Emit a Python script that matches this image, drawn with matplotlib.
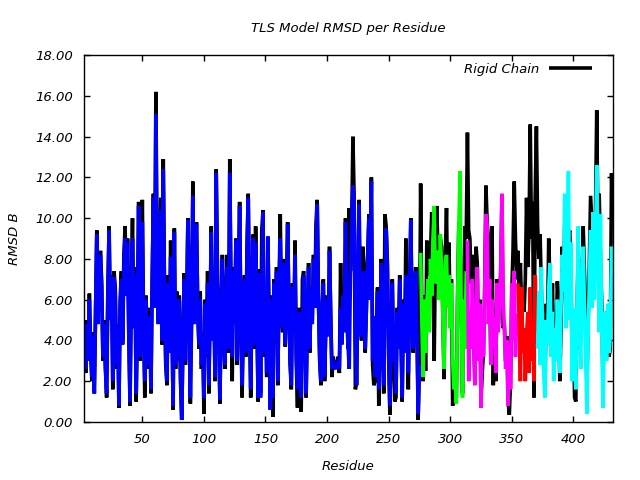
import numpy as np
import matplotlib
matplotlib.use('Agg')
import matplotlib.pyplot as plt

# residue numbers 3..432
residues = np.arange(3, 433)

# TLS model RMSD B per residue (coloured groups)
tls = [
    3.6, 2.6, 4.8, 3.0, 6.0, 3.5, 2.2, 4.2, 1.4, 5.2,
    9.2, 4.8, 7.0, 8.2, 6.6, 3.2, 4.8, 2.6, 1.4, 6.2,
    9.4, 5.0, 7.0, 2.0, 7.1, 6.4, 2.8, 4.6, 0.8, 5.6,
    7.0, 3.8, 7.6, 9.0, 6.2, 8.8, 4.2, 1.0, 6.0, 9.0,
    4.6, 7.2, 1.4, 5.0, 10.6, 3.2, 6.4, 9.8, 4.4, 2.0,
    6.0, 3.6, 2.8, 5.2, 1.6, 6.8, 11.0, 5.6, 15.1, 7.4,
    4.8, 8.0, 10.4, 4.0, 12.4, 6.2, 3.0, 2.0, 6.8, 3.4,
    8.1, 5.0, 0.8, 9.3, 2.8, 6.0, 3.2, 6.0, 2.2, 0.1,
    4.0, 7.0, 3.0, 5.6, 9.9, 6.4, 1.2, 5.0, 11.1, 4.8,
    8.6, 9.7, 5.3, 3.8, 6.0, 2.8, 4.2, 1.2, 5.8, 3.4,
    6.8, 1.8, 5.2, 9.3, 4.0, 6.4, 2.2, 12.2, 7.0, 4.4,
    1.1, 5.2, 8.0, 4.2, 2.8, 6.2, 7.6, 3.6, 12.2, 6.0,
    3.2, 7.4, 4.8, 8.9, 3.0, 6.6, 10.6, 5.0, 1.8, 4.6,
    7.0, 3.4, 8.4, 11.0, 5.2, 1.6, 6.0, 9.0, 3.8, 8.8,
    5.2, 1.2, 7.3, 1.2, 6.6, 10.3, 3.4, 5.8, 2.4, 9.1,
    4.6, 0.6, 6.0, 1.2, 6.8, 4.0, 7.4, 2.0, 6.4, 9.0,
    5.0, 4.6, 7.8, 3.8, 6.2, 9.7, 5.6, 3.0, 1.8, 6.6,
    4.4, 8.2, 3.2, 1.6, 5.4, 3.0, 1.2, 4.2, 7.2, 5.0,
    1.4, 4.8, 7.6, 3.6, 6.4, 4.8, 8.0, 5.6, 8.6, 10.7,
    6.0, 3.2, 2.0, 5.4, 6.8, 2.2, 4.6, 6.0, 4.2, 8.4,
    5.0, 2.6, 3.0, 2.6, 2.8, 2.6, 3.0, 2.6, 5.6, 3.8,
    6.2, 4.4, 9.8, 5.6, 3.8, 2.6, 7.2, 9.4, 11.6, 10.8,
    4.0, 1.8, 6.2, 10.7, 5.0, 4.2, 7.0, 7.4, 3.6, 5.6,
    8.0, 10.0, 6.0, 11.8, 3.0, 5.2, 2.2, 4.0, 6.4, 1.6,
    3.8, 7.8, 4.6, 1.8, 6.0, 9.5, 7.6, 3.4, 0.8, 4.4,
    6.8, 3.0, 4.8, 1.4, 5.4, 3.6, 7.0, 4.2, 1.2, 5.8,
    3.4, 7.2, 5.0, 2.4, 6.0, 9.9, 5.2, 3.6, 6.4, 7.4,
    4.6, 0.4, 2.8, 8.3, 4.8, 2.2, 6.0, 3.4, 5.8, 7.0,
    4.4, 8.0, 6.2, 9.0, 10.6, 6.8, 8.0, 8.4, 6.0, 9.2,
    7.4, 5.2, 2.6, 7.8, 8.2, 5.6, 7.2, 4.6, 6.8, 3.0,
    1.6, 3.0, 0.9, 6.0, 9.6, 12.3, 5.0, 1.2, 6.0, 3.6,
    7.4, 8.9, 2.0, 5.4, 3.6, 7.0, 4.2, 1.8, 5.0, 7.6,
    3.0, 5.8, 0.7, 5.3, 3.2, 6.4, 10.2, 9.7, 4.8, 7.0,
    2.8, 6.0, 3.6, 5.2, 2.4, 6.8, 4.4, 5.4, 7.6, 11.2,
    6.0, 4.6, 2.6, 4.0, 0.8, 3.8, 1.6, 6.8, 4.0, 7.4,
    3.2, 5.3, 6.8, 5.0, 2.0, 6.6, 3.4, 4.6, 2.0, 4.2,
    5.4, 2.4, 6.6, 3.0, 4.8, 2.0, 7.2, 4.4, 3.6, 6.4,
    2.8, 7.6, 4.4, 2.2, 1.2, 5.0, 3.8, 6.6, 7.8, 3.2,
    5.4, 2.0, 4.6, 3.0, 6.0, 4.0, 2.4, 5.6, 8.2, 6.4,
    11.2, 4.6, 7.6, 12.3, 5.0, 8.8, 2.0, 5.6, 3.4, 1.6,
    6.2, 9.6, 4.6, 2.6, 6.8, 8.6, 5.8, 3.4, 0.4, 4.2,
    7.0, 9.4, 5.6, 10.3, 6.0, 9.0, 12.6, 8.0, 4.4, 10.2,
    5.0, 0.7, 3.6, 5.4, 3.0, 5.8, 3.4, 4.2, 8.6, 7.6,
]

# rigid chain RMSD B per residue
rigid = [
    3.8, 2.4, 5.0, 3.2, 6.3, 3.6, 2.0, 4.4, 1.4, 5.4,
    9.4, 5.0, 7.2, 8.4, 6.8, 3.0, 5.0, 2.8, 1.2, 6.6,
    9.6, 5.2, 7.2, 1.6, 7.4, 6.6, 2.6, 4.8, 0.7, 6.0,
    7.4, 4.0, 8.2, 9.6, 6.8, 9.0, 4.4, 0.8, 6.4, 10.0,
    4.8, 7.6, 1.0, 5.2, 10.8, 3.0, 6.6, 10.9, 4.8, 1.2,
    6.2, 3.8, 2.6, 5.6, 1.4, 7.0, 11.2, 6.0, 16.2, 7.8,
    5.0, 8.4, 11.0, 3.8, 12.9, 6.6, 2.8, 1.8, 7.2, 3.6,
    8.9, 5.2, 0.6, 9.5, 2.6, 6.4, 3.0, 6.2, 2.0, 0.1,
    4.2, 7.3, 2.8, 5.8, 10.0, 6.6, 0.9, 5.4, 11.8, 5.0,
    8.8, 9.8, 5.6, 3.6, 6.4, 2.6, 4.4, 0.4, 6.0, 3.2,
    7.4, 1.4, 5.4, 9.6, 4.2, 6.8, 2.0, 12.4, 7.4, 4.6,
    0.9, 5.6, 8.2, 4.4, 2.6, 6.6, 8.2, 3.4, 12.9, 6.4,
    2.0, 7.6, 5.0, 9.0, 2.8, 6.8, 10.8, 5.2, 1.2, 4.8,
    7.2, 3.2, 8.6, 11.2, 5.4, 1.2, 6.2, 9.2, 3.6, 9.6,
    5.4, 1.0, 7.5, 1.4, 9.4, 10.4, 3.2, 6.0, 2.2, 8.7,
    4.8, 0.6, 6.2, 0.25, 7.0, 3.8, 7.6, 1.8, 6.6, 10.2,
    5.2, 4.4, 8.0, 3.7, 6.4, 9.8, 5.8, 2.8, 1.6, 6.8,
    4.6, 8.9, 3.0, 0.7, 5.6, 2.8, 0.5, 7.0, 7.4, 5.2,
    1.2, 5.0, 7.8, 3.4, 6.6, 5.0, 8.2, 5.8, 9.7, 10.9,
    6.2, 3.0, 1.8, 5.6, 7.0, 2.0, 4.8, 6.2, 4.4, 8.6,
    5.2, 2.2, 3.2, 2.8, 2.6, 2.8, 3.2, 2.4, 7.8, 4.0,
    6.4, 4.6, 10.0, 5.8, 3.6, 10.5, 7.4, 9.6, 14.0, 11.0,
    1.6, 2.0, 6.4, 10.9, 5.2, 4.0, 8.6, 7.6, 3.4, 5.8,
    8.2, 10.2, 6.2, 12.0, 2.8, 1.8, 2.0, 4.2, 6.6, 0.8,
    4.0, 8.0, 4.8, 1.4, 10.2, 9.6, 7.8, 3.2, 0.35, 4.6,
    7.0, 2.8, 1.0, 1.2, 5.6, 3.8, 7.2, 4.4, 1.0, 6.0,
    3.6, 9.0, 5.2, 1.6, 6.2, 10.0, 5.4, 3.4, 6.6, 7.6,
    4.8, 0.1, 3.0, 11.7, 5.0, 2.0, 6.2, 2.5, 8.9, 7.2,
    7.8, 8.2, 10.3, 7.0, 3.0, 8.4, 10.6, 8.6, 7.2, 9.0,
    8.6, 5.4, 2.1, 8.0, 10.5, 5.8, 8.8, 4.8, 7.0, 0.8,
    1.8, 1.8, 1.2, 6.2, 9.8, 9.0, 5.2, 1.4, 6.2, 9.6,
    9.0, 14.2, 9.4, 9.0, 6.8, 8.2, 4.4, 2.0, 8.6, 7.8,
    3.2, 6.0, 1.0, 2.4, 3.4, 6.6, 11.6, 9.8, 9.0, 7.2,
    3.0, 9.6, 1.8, 5.4, 2.0, 7.0, 4.6, 6.4, 7.2, 11.0,
    4.6, 4.8, 3.0, 4.2, 1.0, 0.35, 2.0, 6.4, 8.4, 11.8,
    9.0, 7.0, 8.4, 6.6, 7.8, 5.6, 6.2, 5.4, 7.0, 11.0,
    7.6, 9.4, 14.6, 9.0, 10.8, 1.2, 11.0, 14.5, 9.6, 8.0,
    9.2, 6.6, 4.4, 3.0, 2.0, 5.8, 4.6, 9.0, 6.8, 4.0,
    6.8, 3.4, 5.2, 3.6, 6.9, 5.8, 2.0, 4.6, 8.6, 7.0,
    9.6, 4.8, 8.2, 9.0, 9.4, 7.8, 3.0, 5.0, 1.2, 1.0,
    5.8, 8.0, 3.6, 5.6, 7.0, 9.6, 7.4, 5.4, 1.8, 4.8,
    7.8, 11.1, 9.8, 8.6, 7.2, 10.4, 15.3, 9.2, 11.2, 8.0,
    6.0, 2.2, 4.6, 5.2, 5.4, 4.0, 3.2, 3.6, 12.2, 10.0,
]

# TLS groups: residue range of each group and its colour
group_start = [3, 276, 314, 355, 371]
group_end = [275, 313, 354, 370, 432]
group_color = ['#0000ff', '#00ff00', '#ff00ff', '#ff0000', '#00ffff']

tls = np.array(tls)
rigid = np.array(rigid)

plt.rcParams['font.family'] = ['DejaVu Sans']
fig = plt.figure(figsize=(6.4, 4.8), dpi=100)
ax = fig.add_axes([0.131, 0.121, 0.827, 0.764])

style = dict(lw=2.6, solid_joinstyle='bevel', solid_capstyle='butt')
ax.plot(residues, rigid, color='black', label='Rigid Chain', **style)
for s, e, c in zip(group_start, group_end, group_color):
    m = (residues >= s) & (residues <= e)
    ax.plot(residues[m], tls[m], color=c, **style)

ax.set_xlim(residues[0] - 0.5, residues[-1] + 0.3)
ax.set_ylim(0, 18)
ax.set_xticks(range(50, 401, 50))
ax.set_yticks(np.arange(0, 18.1, 2))
ax.set_yticklabels(['%.2f' % v for v in np.arange(0, 18.1, 2)])
ax.tick_params(direction='in', top=True, right=True, length=4, width=1,
               labelsize=9.5, pad=8)
for lab in ax.get_xticklabels() + ax.get_yticklabels():
    lab.set_style('italic')
for sp in ax.spines.values():
    sp.set_linewidth(1)

ax.set_title('TLS Model RMSD per Residue', style='italic', fontsize=9.5, pad=17)
ax.set_xlabel('Residue', style='italic', fontsize=9.5, labelpad=10)
ax.set_ylabel('RMSD B', style='italic', fontsize=9.5, labelpad=10)

leg = ax.legend(loc='upper right', bbox_to_anchor=(0.977, 1.005), frameon=False,
                markerfirst=False, handlelength=3.2, fontsize=9.5,
                borderaxespad=0.3)
for t in leg.get_texts():
    t.set_style('italic')

fig.savefig('out.png', dpi=100)
